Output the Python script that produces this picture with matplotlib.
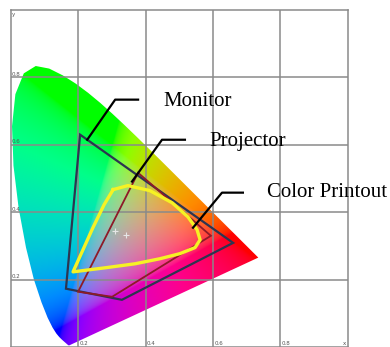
import numpy as np
import matplotlib
matplotlib.use("Agg")
import matplotlib.pyplot as plt
from matplotlib.patches import Polygon

# CIE 1931 spectral locus (380-700 nm)
locus_x = [0.1741, 0.1740, 0.1738, 0.1736, 0.1733, 0.1730, 0.1726, 0.1721, 0.1714, 0.1703,
           0.1689, 0.1669, 0.1644, 0.1611, 0.1566, 0.1510, 0.1440, 0.1355, 0.1241, 0.1096,
           0.0913, 0.0687, 0.0454, 0.0235, 0.0082, 0.0039, 0.0139, 0.0389, 0.0743, 0.1142,
           0.1547, 0.1929, 0.2296, 0.2658, 0.3016, 0.3373, 0.3731, 0.4087, 0.4441, 0.4788,
           0.5125, 0.5448, 0.5752, 0.6029, 0.6270, 0.6482, 0.6658, 0.6801, 0.6915, 0.7006,
           0.7079, 0.7140, 0.7190, 0.7230, 0.7260, 0.7283, 0.7300, 0.7311, 0.7320, 0.7327,
           0.7334, 0.7344, 0.7347]
locus_y = [0.0050, 0.0050, 0.0049, 0.0049, 0.0048, 0.0048, 0.0048, 0.0048, 0.0051, 0.0058,
           0.0069, 0.0086, 0.0109, 0.0138, 0.0177, 0.0227, 0.0297, 0.0399, 0.0578, 0.0868,
           0.1327, 0.2007, 0.2950, 0.4127, 0.5384, 0.6548, 0.7502, 0.8120, 0.8338, 0.8262,
           0.8059, 0.7816, 0.7543, 0.7243, 0.6923, 0.6589, 0.6245, 0.5896, 0.5547, 0.5202,
           0.4866, 0.4544, 0.4242, 0.3965, 0.3725, 0.3514, 0.3340, 0.3197, 0.3083, 0.2993,
           0.2920, 0.2859, 0.2809, 0.2770, 0.2740, 0.2717, 0.2700, 0.2689, 0.2680, 0.2673,
           0.2666, 0.2656, 0.2653]

# device gamuts in xy
monitor_x = [0.206, 0.660, 0.330, 0.164]
monitor_y = [0.630, 0.309, 0.140, 0.173]
projector_x = [0.378, 0.594, 0.301, 0.200]
projector_y = [0.517, 0.330, 0.149, 0.164]
printout_x = [0.304, 0.348, 0.413, 0.479, 0.526, 0.553, 0.562, 0.547, 0.502, 0.443,
              0.369, 0.280, 0.185, 0.212, 0.244, 0.277, 0.304]
printout_y = [0.467, 0.479, 0.464, 0.428, 0.386, 0.348, 0.318, 0.295, 0.277, 0.262,
              0.247, 0.235, 0.223, 0.283, 0.354, 0.422, 0.467]
white_x = [0.310, 0.342]
white_y = [0.345, 0.333]

grid_vals = [0.2, 0.4, 0.6, 0.8]

W, H = 390, 347
fig = plt.figure(figsize=(W / 100, H / 100), dpi=100)
ax = fig.add_axes([10.7 / W, 0, 337 / W, 337 / H])
ax.set_xlim(0, 1)
ax.set_ylim(0, 1)

# chromaticity colours: xyY -> linear sRGB, scaled by channel sum
n = 500
xs = np.linspace(0, 0.8, n)
ys = np.linspace(0.001, 0.9, n)
xx, yy = np.meshgrid(xs, ys)
XYZ = np.stack([xx / yy, np.ones_like(xx), (1 - xx - yy) / yy], axis=-1)
M = np.array([[3.2406, -1.5372, -0.4986],
              [-0.9689, 1.8758, 0.0415],
              [0.0557, -0.2040, 1.0570]])
rgb = np.clip(XYZ @ M.T, 0, None)
rgb = rgb / np.maximum(rgb.sum(-1, keepdims=True), 1e-9) * 1.25
rgb = np.clip(rgb, 0, 1)
rgb = np.where(rgb <= 0.0031308, 12.92 * rgb, 1.055 * rgb ** (1 / 2.4) - 0.055)

locus = Polygon(np.column_stack([locus_x, locus_y]), closed=True,
                facecolor='none', edgecolor='none')
ax.add_patch(locus)
im = ax.imshow(rgb, origin='lower', extent=(0, 0.8, 0.001, 0.9),
               interpolation='bilinear', aspect='auto', zorder=1)
im.set_clip_path(locus)

for v in grid_vals:
    ax.axvline(v, color='#8a8a8a', lw=1.1, zorder=2)
    ax.axhline(v, color='#8a8a8a', lw=1.1, zorder=2)
for s in ax.spines.values():
    s.set_color('#8a8a8a')
    s.set_linewidth(1.1)
ax.set_xticks([])
ax.set_yticks([])

# small axis labels inside the frame
for v in grid_vals:
    ax.text(0.004, v + 0.002, f"{v:.1f}", fontsize=4, color='#555555', va='bottom', ha='left')
    ax.text(v + 0.004, 0.004, f"{v:.1f}", fontsize=4, color='#555555', va='bottom', ha='left')
ax.text(0.004, 0.995, "y", fontsize=4, color='#555555', va='top', ha='left')
ax.text(0.995, 0.004, "x", fontsize=4, color='#555555', va='bottom', ha='right')

# gamut outlines
ax.fill(monitor_x, monitor_y, fill=False, edgecolor='#2c3550', lw=1.6, zorder=4)
ax.fill(projector_x, projector_y, fill=False, edgecolor='#8e1a28', lw=1.3, zorder=4)
ax.plot(printout_x, printout_y, color='#f6f224', lw=2.4, solid_joinstyle='round', zorder=5)
ax.plot(white_x, white_y, '+', color='#e6e6e6', ms=4, mew=0.8, zorder=5)

# labels with leader lines
ax.plot([0.227, 0.310, 0.378], [0.615, 0.734, 0.734], color='black', lw=1.6, zorder=6)
ax.plot([0.360, 0.449, 0.517], [0.491, 0.615, 0.615], color='black', lw=1.6, zorder=6)
ax.plot([0.541, 0.627, 0.689], [0.354, 0.458, 0.458], color='black', lw=1.6, zorder=6)
font = dict(family='Liberation Serif', fontsize=15, color='black', va='center', ha='left', zorder=7)
ax.text(0.452, 0.728, "Monitor", **font)
ax.text(0.589, 0.609, "Projector", **font)
ax.text(0.761, 0.458, "Color Printout", **font)

fig.savefig("out.png", dpi=100)
